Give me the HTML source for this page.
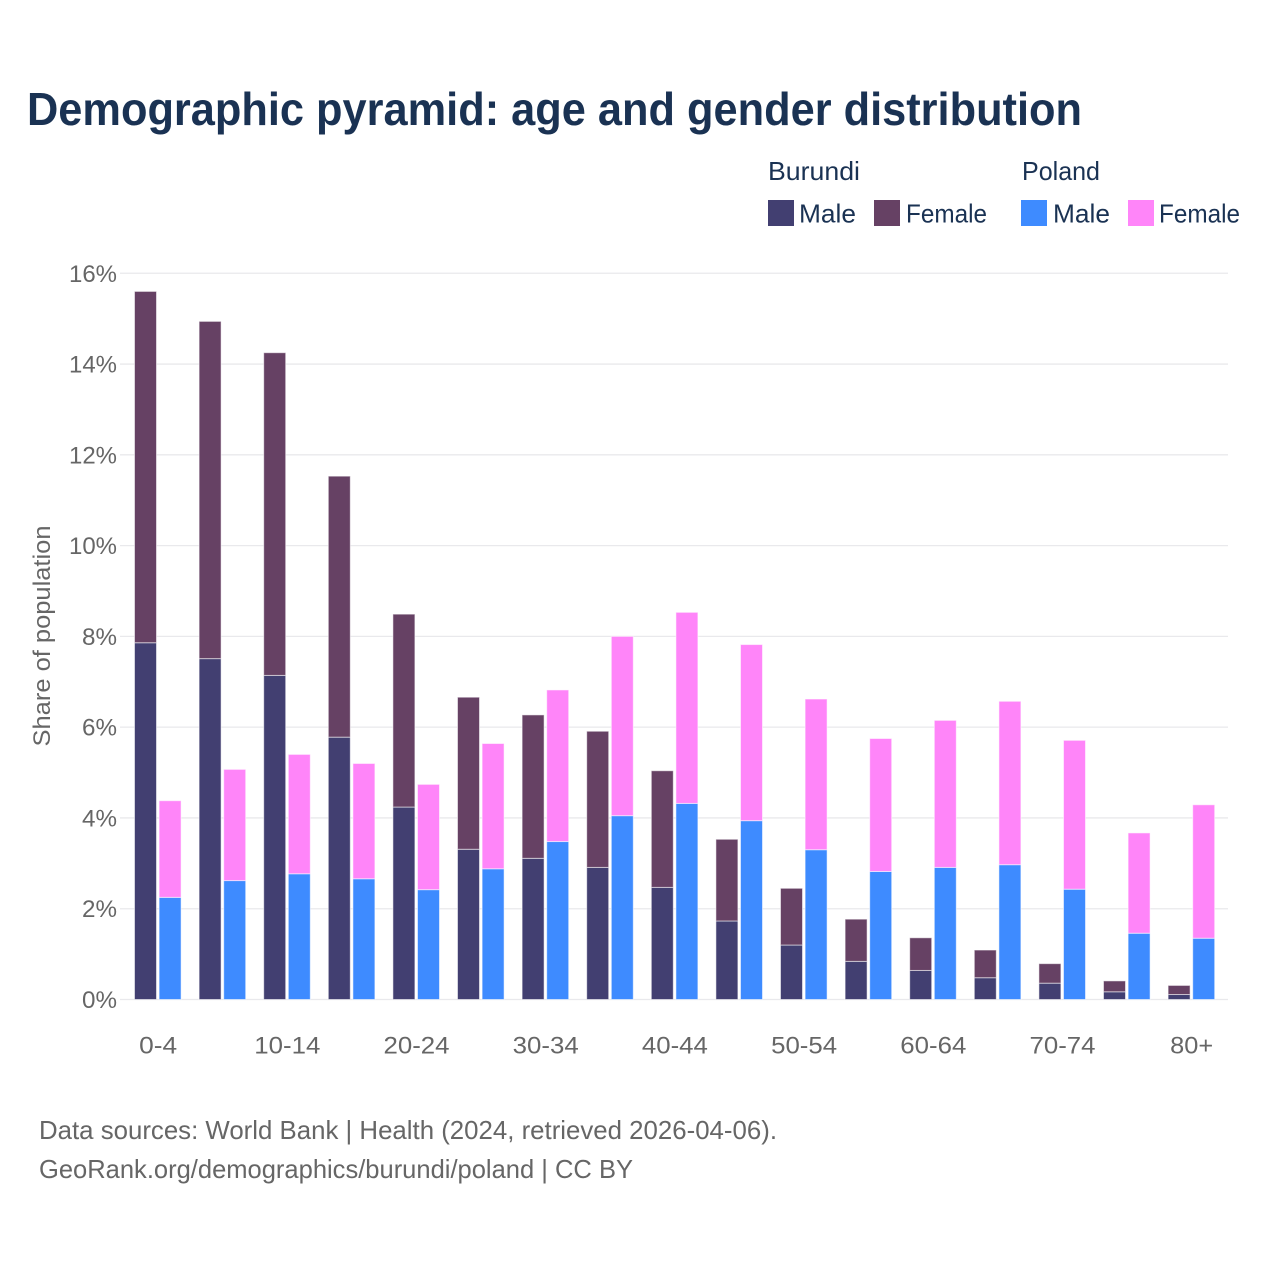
<!DOCTYPE html>
<html lang="en">
<head>
<meta charset="utf-8">
<title>Demographic pyramid: age and gender distribution</title>
<style>
html,body{margin:0;padding:0;background:#fff;}
svg{display:block;font-family:"Liberation Sans",sans-serif;}
</style>
</head>
<body>
<svg id="chart" width="1280" height="1280" viewBox="0 0 1280 1280" xmlns="http://www.w3.org/2000/svg">
  <rect width="1280" height="1280" fill="#ffffff"/>
  <text x="27" y="125" font-size="46" font-weight="700" fill="#1a3253" textLength="1055" lengthAdjust="spacingAndGlyphs">Demographic pyramid: age and gender distribution</text>

  <g font-size="26" fill="#1a3253">
    <text x="768" y="180" textLength="92" lengthAdjust="spacingAndGlyphs">Burundi</text>
    <text x="1022" y="180" textLength="78" lengthAdjust="spacingAndGlyphs">Poland</text>
    <g>
      <rect x="768" y="200" width="26" height="26" fill="#423f71"/>
      <text x="799" y="222.5" textLength="57" lengthAdjust="spacingAndGlyphs">Male</text>
    </g>
    <g>
      <rect x="874" y="200" width="26" height="26" fill="#664164"/>
      <text x="906" y="222.5" textLength="81" lengthAdjust="spacingAndGlyphs">Female</text>
    </g>
    <g>
      <rect x="1021" y="200" width="26" height="26" fill="#3e8bff"/>
      <text x="1053" y="222.5" textLength="57" lengthAdjust="spacingAndGlyphs">Male</text>
    </g>
    <g>
      <rect x="1128" y="200" width="26" height="26" fill="#ff85f9"/>
      <text x="1159" y="222.5" textLength="81" lengthAdjust="spacingAndGlyphs">Female</text>
    </g>
  </g>

  <g id="grid"></g>
  <g id="yticks" font-size="24" fill="#666666"></g>
  <g id="bars"></g>
  <g id="xticks" font-size="24" fill="#666666"></g>

  <text transform="translate(50,636) rotate(-90)" text-anchor="middle" font-size="24" fill="#666666" textLength="221" lengthAdjust="spacingAndGlyphs">Share of population</text>

  <text x="39" y="1139" font-size="26" fill="#666666" textLength="738" lengthAdjust="spacingAndGlyphs">Data sources: World Bank | Health (2024, retrieved 2026-04-06).</text>
  <text x="39" y="1178" font-size="26" fill="#666666" textLength="594" lengthAdjust="spacingAndGlyphs">GeoRank.org/demographics/burundi/poland | CC BY</text>
</svg>
<script>
const ageGroups = ["0-4","5-9","10-14","15-19","20-24","25-29","30-34","35-39","40-44","45-49","50-54","55-59","60-64","65-69","70-74","75-79","80+"];
const burundiMale = [7.86,7.51,7.14,5.78,4.24,3.31,3.11,2.91,2.47,1.73,1.20,0.84,0.64,0.48,0.36,0.17,0.11];
const burundiFemale = [7.74,7.43,7.11,5.75,4.25,3.35,3.16,3.00,2.57,1.80,1.25,0.93,0.72,0.61,0.43,0.24,0.20];
const polandMale = [2.25,2.62,2.77,2.66,2.42,2.88,3.48,4.05,4.32,3.94,3.30,2.82,2.91,2.97,2.43,1.46,1.35];
const polandFemale = [2.13,2.45,2.63,2.54,2.32,2.76,3.34,3.95,4.21,3.88,3.32,2.93,3.24,3.60,3.28,2.21,2.94];
const yTickValues = [0,2,4,6,8,10,12,14,16];
const xTickLabels = ["0-4","","10-14","","20-24","","30-34","","40-44","","50-54","","60-64","","70-74","","80+"];

const NS = 'http://www.w3.org/2000/svg';
const yScale = v => 999.5 - v * 45.39;
const groupX = i => 157.8 + i * 64.6;
const BAR_W = 22;
const BAR_GAP = 1.3;

function make(tag, attrs, parent) {
  const el = document.createElementNS(NS, tag);
  for (const k in attrs) el.setAttribute(k, attrs[k]);
  parent.appendChild(el);
  return el;
}

const grid = document.getElementById('grid');
const yticks = document.getElementById('yticks');
yTickValues.forEach(v => {
  const line = make('line', {x1: 120, x2: 1228, y1: yScale(v), y2: yScale(v), stroke: '#e9e9ec', 'stroke-width': 1.3}, grid);
  
  
  const t = make('text', {x: 117, y: yScale(v) + 8.5, 'text-anchor': 'end', textLength: v >= 10 ? 48 : 35, lengthAdjust: 'spacingAndGlyphs'}, yticks);
  t.textContent = v + '%';
  
  
});

const bars = document.getElementById('bars');
function drawBar(x, base, value, fill, name) {
  const y1 = yScale(base + value), y0 = yScale(base);
  const r = make('rect', {x: x, y: y1, width: BAR_W, height: y0 - y1, fill: fill, stroke: '#ffffff', 'stroke-opacity': 0.55, 'stroke-width': 1}, bars);
  
  
}
ageGroups.forEach((age, i) => {
  const c = groupX(i);
  const xB = c - BAR_W - BAR_GAP;
  const xP = c + BAR_GAP;
  drawBar(xB, 0, burundiMale[i], '#423f71', 'bar-burundi-male-' + age);
  drawBar(xB, burundiMale[i], burundiFemale[i], '#664164', 'bar-burundi-female-' + age);
  drawBar(xP, 0, polandMale[i], '#3e8bff', 'bar-poland-male-' + age);
  drawBar(xP, polandMale[i], polandFemale[i], '#ff85f9', 'bar-poland-female-' + age);
});

const xticks = document.getElementById('xticks');
xTickLabels.forEach((label, i) => {
  if (!label) return;
  const t = make('text', {x: groupX(i) + 0.3, y: 1053.5, 'text-anchor': 'middle', textLength: label.length === 5 ? 66 : (label.length === 3 && label !== '80+' ? 38 : 43), lengthAdjust: 'spacingAndGlyphs'}, xticks);
  t.textContent = label;
  
  
});
</script>
</body>
</html>
